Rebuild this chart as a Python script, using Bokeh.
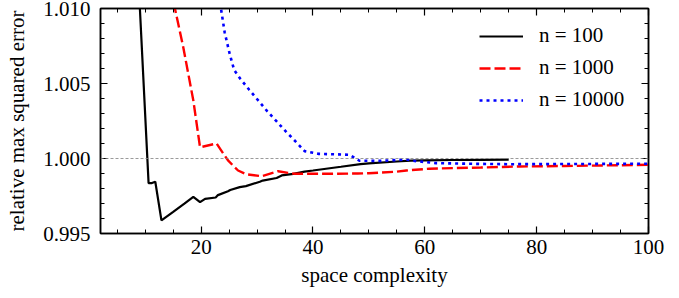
from bokeh.plotting import figure
from bokeh.models import (Range1d, LinearAxis, FixedTicker, PrintfTickFormatter,
                          Span, Legend, LegendItem)
from bokeh.embed import file_html
from bokeh.resources import INLINE

# ---- data ----
x_n100 = [8, 10.6, 11.2, 11.8, 12.9, 15, 17, 18.6, 19.8, 20.7, 22.6, 23.0, 24.8, 25.2,
          26.9, 28, 30.5, 31.0, 33.5, 34.4, 36.5, 38.5, 40, 42, 45, 48.5, 50, 55, 57.5,
          60, 65, 70, 75]
y_n100 = [1.0178, 0.99836, 0.99836, 0.99845, 0.99587, 0.99644, 0.99699, 0.99744, 0.99709,
          0.99731, 0.99740, 0.99756, 0.99782, 0.99790, 0.99809, 0.99816, 0.99845, 0.99853,
          0.99870, 0.99887, 0.99898, 0.99913, 0.99920, 0.99930, 0.99945, 0.99963, 0.99968,
          0.99980, 0.99986, 0.99988, 0.99990, 0.99991, 0.99992]

x_n1000 = [14.5, 16.8, 18.6, 19.8, 22.75, 24.8, 26.6, 28.1, 30.8, 33.75, 36.7, 42, 48, 50,
           55, 56.7, 60.8, 65, 70, 77, 85, 100]
y_n1000 = [1.0114, 1.00742, 1.00387, 1.00075, 1.00100, 0.99987, 0.99920, 0.99895, 0.99882,
           0.99915, 0.99898, 0.99898, 0.99900, 0.99902, 0.99912, 0.99920, 0.99932, 0.99936,
           0.99940, 0.99947, 0.99950, 0.99958]

x_n10000 = [23, 24.2, 25.1, 25.9, 27.0, 28.6, 30.2, 31.8, 33.5, 35.25, 37.0, 38.5, 41, 46.5,
            48.3, 52, 56.7, 58.5, 62, 68, 75, 100]
y_n10000 = [1.0113, 1.00842, 1.00698, 1.00590, 1.00531, 1.00458, 1.00387, 1.00316, 1.00247,
            1.00176, 1.00109, 1.00049, 1.00031, 1.00025, 0.99985, 0.99984, 0.99993, 0.99982,
            0.99969, 0.99965, 0.99962, 0.99965]

labels = ["n = 100", "n = 1000", "n = 10000"]
x_ticks = [20, 40, 60, 80, 100]
x_minor = list(range(5, 101, 5))
y_ticks = [0.995, 1.000, 1.005, 1.010]
y_minor = [0.995 + 0.001 * i for i in range(16)]
reference_level = 1.0

FONT = "Liberation Serif"
FS = "21px"

p = figure(width=679, height=298, output_backend="svg", toolbar_location=None,
           x_range=Range1d(2, 100), y_range=Range1d(0.995, 1.010),
           min_border_left=100, min_border_right=31, min_border_top=8, min_border_bottom=65,
           x_axis_label="space complexity", y_axis_label="relative max squared error")
p.background_fill_color = "white"
p.border_fill_color = "white"
p.outline_line_color = "black"
p.outline_line_width = 1.5
p.xgrid.visible = False
p.ygrid.visible = False

p.add_layout(Span(location=reference_level, dimension="width", line_color="#808080",
                  line_width=0.8, line_dash="3 2"))

r1 = p.line(x_n100, y_n100, line_color="black", line_width=2.2)
r2 = p.line(x_n1000, y_n1000, line_color="red", line_width=2.4, line_dash="11 4")
r3 = p.line(x_n10000, y_n10000, line_color="blue", line_width=2.6, line_dash="3 4")

def style_axis(ax, show_labels):
    ax.axis_line_color = "black"
    ax.axis_line_width = 1.5
    ax.major_tick_in = 7
    ax.major_tick_out = 0
    ax.minor_tick_in = 4
    ax.minor_tick_out = 0
    ax.major_tick_line_color = "black"
    ax.minor_tick_line_color = "black"
    ax.major_tick_line_width = 1.2
    ax.minor_tick_line_width = 1.0
    ax.major_label_text_font = FONT
    ax.axis_label_text_font = FONT
    ax.axis_label_text_font_style = "normal"
    ax.axis_label_text_font_size = FS
    ax.axis_label_text_color = "black"
    if show_labels:
        ax.major_label_text_font_size = FS
        ax.major_label_text_color = "black"
    else:
        ax.major_label_text_font_size = "0px"
        ax.major_label_standoff = 0

xt = FixedTicker(ticks=x_ticks, minor_ticks=x_minor)
yt = FixedTicker(ticks=y_ticks, minor_ticks=y_minor)
yfmt = PrintfTickFormatter(format="%.3f")

p.xaxis.ticker = xt
p.yaxis.ticker = yt
p.yaxis.formatter = yfmt
style_axis(p.xaxis[0], True)
style_axis(p.yaxis[0], True)
p.xaxis.major_label_standoff = 6
p.xaxis.axis_label_standoff = 6
p.yaxis.major_label_standoff = 10
p.yaxis.axis_label_standoff = 11

top_ax = LinearAxis(ticker=FixedTicker(ticks=x_ticks, minor_ticks=x_minor))
right_ax = LinearAxis(ticker=FixedTicker(ticks=y_ticks, minor_ticks=y_minor))
style_axis(top_ax, False)
style_axis(right_ax, False)
p.add_layout(top_ax, "above")
p.add_layout(right_ax, "right")

legend = Legend(items=[LegendItem(label=labels[0], renderers=[r1]),
                       LegendItem(label=labels[1], renderers=[r2]),
                       LegendItem(label=labels[2], renderers=[r3])],
                location="top_right")
legend.label_text_font = FONT
legend.label_text_font_size = FS
legend.label_text_color = "black"
legend.glyph_width = 44
legend.glyph_height = 24
legend.label_height = 24
legend.label_width = 94
legend.label_standoff = 16
legend.spacing = 7
legend.padding = 0
legend.margin = 15
legend.border_line_color = None
legend.background_fill_alpha = 0
p.add_layout(legend)

open("out.html", "w").write(file_html(p, INLINE))
